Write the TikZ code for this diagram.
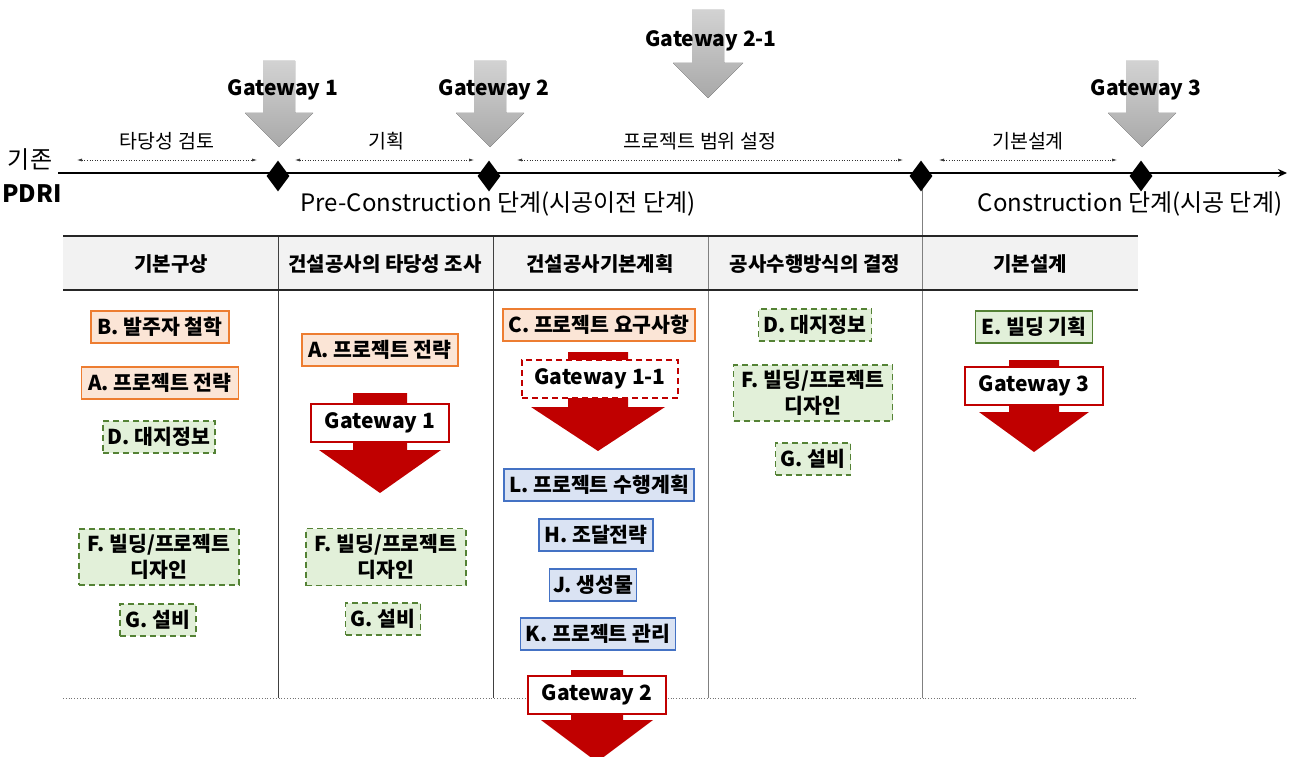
\documentclass[tikz,border=0pt]{standalone}
\usepackage{fontspec}
\setmainfont{Noto Sans CJK KR}
\usetikzlibrary{arrows.meta,shapes.geometric}
\definecolor{orgB}{HTML}{ED7D31}
\definecolor{orgF}{HTML}{FBE5D6}
\definecolor{grnB}{HTML}{548235}
\definecolor{grnF}{HTML}{E2F0D9}
\definecolor{bluB}{HTML}{4472C4}
\definecolor{bluF}{HTML}{DAE3F3}
\definecolor{redC}{HTML}{C00000}
\definecolor{hdrF}{HTML}{F2F2F2}
\newcommand\grayarr[6]{%
  \fill[top color=gray!35,bottom color=gray!68] ({#1-#3},#2) -- ({#1+#3},#2) -- ({#1+#3},#4) -- ({#1+#5},#4) -- (#1,#6) -- ({#1-#5},#4) -- ({#1-#3},#4) -- cycle;}
\newcommand\redarr[6]{%
  \fill[redC] ({#1-#3},#2) -- ({#1+#3},#2) -- ({#1+#3},#4) -- ({#1+#5},#4) -- (#1,#6) -- ({#1-#5},#4) -- ({#1-#3},#4) -- cycle;}
\tikzset{
  bx/.style={draw,line width=1.4pt,inner xsep=3pt,inner ysep=1pt,align=center,
    font=\bfseries\fontsize{20.5}{26}\selectfont,minimum height=32pt},
  obox/.style={bx,draw=orgB,fill=orgF},
  gdbox/.style={bx,draw=grnB,fill=grnF,dash pattern=on 6pt off 4pt},
  gsbox/.style={bx,draw=grnB,fill=grnF},
  bbox/.style={bx,draw=bluB,fill=bluF},
  gwbox/.style={bx,draw=redC,fill=white,font=\bfseries\fontsize{21}{24}\selectfont,minimum width=138pt,minimum height=38pt},
  hdr/.style={font=\bfseries\fontsize{20}{23}\selectfont},
  toplbl/.style={font=\bfseries\fontsize{21}{24}\selectfont},
  span/.style={dotted,line width=0.6pt,black!80,{Latex[length=5pt,width=3pt]}-{Latex[length=5pt,width=3pt]}},
  spanlbl/.style={font=\fontsize{19.5}{22}\selectfont},
  ms/.style={diamond,fill=black,inner sep=0pt,minimum width=23pt,minimum height=31pt},
  colline/.style={line width=0.6pt},
  phase/.style={font=\fontsize{24}{28}\selectfont},
}
\begin{document}
\begin{tikzpicture}[x=1pt,y=-1pt]
\useasboundingbox (0,0) rectangle (1292,757);
% header band of the table
\fill[hdrF] (63,236) rectangle (1138,290);
% column lines
\draw[colline,black!75] (278,236) -- (278,698);
\draw[colline,black!75] (493,236) -- (493,698);
\draw[colline,black!50] (708,236) -- (708,698);
\draw[colline,black!50] (922,175) -- (922,698);
\draw[line width=1.6pt,black!85] (63,236) -- (1138,236);
\draw[line width=1.6pt,black!85] (63,290) -- (1138,290);
\draw[dotted,line width=0.8pt,black!55] (63,698) -- (1138,698);
% headers
\node[hdr] (h1) at (171,264) {기본구상};
\node[hdr] (h2) at (385,264) {건설공사의 타당성 조사};
\node[hdr] (h3) at (600,264) {건설공사기본계획};
\node[hdr] (h4) at (815,264) {공사수행방식의 결정};
\node[hdr] (h5) at (1030,264) {기본설계};
% timeline
\coordinate (tl0) at (58,173);
\coordinate (tl1) at (1287,173);
\draw[line width=2.6pt,-{Stealth[length=9pt,width=8pt]}] (tl0) -- (tl1);
\node[font=\fontsize{24}{26}\selectfont] (kijon) at (30,160) {기존};
\node[font=\bfseries\fontsize{24}{26}\selectfont] (pdri) at (32,194) {PDRI};
% gray gateway arrows
\grayarr{279}{61}{16}{113}{34}{147}
\grayarr{490}{61}{16}{113}{34}{147}
\grayarr{708}{10}{16}{63}{35}{98}
\grayarr{1142}{61}{16}{113}{34}{147}
\node[toplbl] (tg1) at (283,90) {Gateway 1};
\node[toplbl] (tg2) at (494,90) {Gateway 2};
\node[toplbl] (tg21) at (711,41) {Gateway 2-1};
\node[toplbl] (tg3) at (1146,90) {Gateway 3};
% milestones
\node[ms] (m1) at (278,176) {};
\node[ms] (m2) at (489,176) {};
\node[ms] (m3) at (921,176) {};
\node[ms] (m4) at (1141,176) {};
% spans
\coordinate (s1a) at (77,160); \coordinate (s1b) at (257,160);
\coordinate (s2a) at (295,160); \coordinate (s2b) at (474,160);
\coordinate (s3a) at (517,160); \coordinate (s3b) at (903,160);
\coordinate (s4a) at (939,160); \coordinate (s4b) at (1117,160);
\draw[span] (s1a) -- (s1b);
\draw[span] (s2a) -- (s2b);
\draw[span] (s3a) -- (s3b);
\draw[span] (s4a) -- (s4b);
\node[spanlbl] (l1) at (167,141) {타당성 검토};
\node[spanlbl] (l2) at (386,141) {기획};
\node[spanlbl] (l3) at (700,141) {프로젝트 범위 설정};
\node[spanlbl] (l4) at (1028,141) {기본설계};
% phases
\node[phase] (pre) at (498,204) {Pre-Construction 단계(시공이전 단계)};
\node[phase] (con) at (1130,204) {Construction 단계(시공 단계)};
% column 1
\node[obox,minimum width=138pt] (c1b) at (160,327) {B. 발주자 철학};
\node[obox,minimum width=157pt] (c1a) at (160,383) {A. 프로젝트 전략};
\node[gdbox,minimum width=112pt] (c1d) at (159,437) {D. 대지정보};
\node[gdbox,minimum width=160pt,minimum height=56pt] (c1f) at (159,557) {F. 빌딩/프로젝트\\디자인};
\node[gdbox,minimum width=76pt] (c1g) at (158,620) {G. 설비};
% column 2
\node[obox,minimum width=156pt] (c2a) at (380,350) {A. 프로젝트 전략};
\redarr{380}{393}{27}{450}{61}{493}
\node[gwbox] (gw1) at (380,423) {Gateway 1};
\node[gdbox,minimum width=160pt,minimum height=57pt] (c2f) at (386,557) {F. 빌딩/프로젝트\\디자인};
\node[gdbox,minimum width=75pt] (c2g) at (383,619) {G. 설비};
% column 3
\node[obox,minimum width=192pt] (c3c) at (599,325) {C. 프로젝트 요구사항};
\redarr{598}{352}{30}{407}{67}{451}
\node[gwbox,dash pattern=on 6pt off 4pt,minimum width=156pt,minimum height=38pt] (gw11) at (600,379) {Gateway 1-1};
\node[bbox,minimum width=190pt] (c3l) at (599,485) {L. 프로젝트 수행계획};
\node[bbox,minimum width=114pt] (c3h) at (596,535) {H. 조달전략};
\node[bbox,minimum width=87pt] (c3j) at (593,585) {J. 생성물};
\node[bbox,minimum width=155pt] (c3k) at (598,634) {K. 프로젝트 관리};
\redarr{597}{670}{26}{720}{56}{762}
\node[gwbox] (gw2) at (597,695) {Gateway 2};
% column 4
\node[gdbox,minimum width=113pt] (c4d) at (815,325) {D. 대지정보};
\node[gdbox,minimum width=159pt,minimum height=56pt] (c4f) at (813,393) {F. 빌딩/프로젝트\\디자인};
\node[gdbox,minimum width=75pt] (c4g) at (813,459) {G. 설비};
% column 5
\node[gsbox,minimum width=117pt] (c5e) at (1034,327) {E. 빌딩 기획};
\redarr{1034}{360}{25}{412}{55}{452}
\node[gwbox] (gw3) at (1034,386) {Gateway 3};
\end{tikzpicture}
\end{document}
